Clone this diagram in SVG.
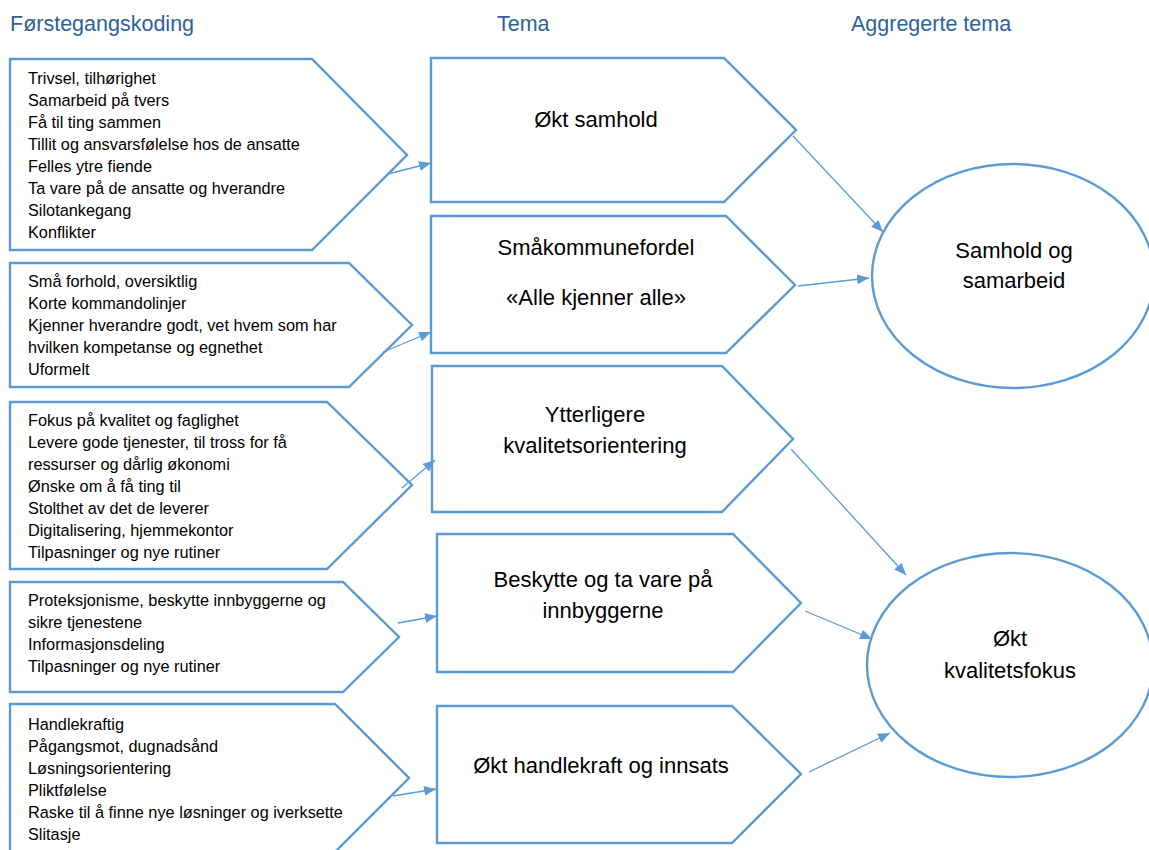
<svg xmlns="http://www.w3.org/2000/svg" width="1149" height="850" viewBox="0 0 1149 850">
<style>
.bg{fill:#fff}
.shape{fill:#fff;stroke:#5B9BD5;stroke-width:2.4}
.hdr{font-family:"Liberation Sans",Arial,sans-serif;font-size:21.5px;fill:#2E6298}
.li{font-family:"Liberation Sans",Arial,sans-serif;font-size:16.3px;fill:#000}
.tm{font-family:"Liberation Sans",Arial,sans-serif;font-size:22px;fill:#000;text-anchor:middle}
.conn{stroke:#5B9BD5;stroke-width:1.3;fill:none;marker-end:url(#ah)}
</style>
<defs>
<marker id="ah" markerUnits="userSpaceOnUse" markerWidth="13" markerHeight="11" refX="12" refY="5" orient="auto">
<path d="M0,0 L12,5 L0,10 z" fill="#5B9BD5"/>
</marker>
</defs>
<rect class="bg" x="0" y="0" width="1149" height="850"/>
<g id="headers">
<text class="hdr" x="10" y="31">Førstegangskoding</text>
<text class="hdr" x="497" y="31">Tema</text>
<text class="hdr" x="851" y="31">Aggregerte tema</text>
</g>
<g id="code1">
<polygon class="shape" points="10,59 312,59 407,155 312,250 10,250"/>
<text class="li" x="28" y="84">Trivsel, tilhørighet</text>
<text class="li" x="28" y="106">Samarbeid på tvers</text>
<text class="li" x="28" y="128">Få til ting sammen</text>
<text class="li" x="28" y="150">Tillit og ansvarsfølelse hos de ansatte</text>
<text class="li" x="28" y="172">Felles ytre fiende</text>
<text class="li" x="28" y="194">Ta vare på de ansatte og hverandre</text>
<text class="li" x="28" y="216">Silotankegang</text>
<text class="li" x="28" y="238">Konflikter</text>
</g>
<g id="code2">
<polygon class="shape" points="10,263 349,263 412,325 349,387 10,387"/>
<text class="li" x="28" y="287">Små forhold, oversiktlig</text>
<text class="li" x="28" y="309">Korte kommandolinjer</text>
<text class="li" x="28" y="331">Kjenner hverandre godt, vet hvem som har</text>
<text class="li" x="28" y="353">hvilken kompetanse og egnethet</text>
<text class="li" x="28" y="375">Uformelt</text>
</g>
<g id="code3">
<polygon class="shape" points="10,402 327,402 412,485 327,569 10,569"/>
<text class="li" x="28" y="426">Fokus på kvalitet og faglighet</text>
<text class="li" x="28" y="448">Levere gode tjenester, til tross for få</text>
<text class="li" x="28" y="470">ressurser og dårlig økonomi</text>
<text class="li" x="28" y="492">Ønske om å få ting til</text>
<text class="li" x="28" y="514">Stolthet av det de leverer</text>
<text class="li" x="28" y="536">Digitalisering, hjemmekontor</text>
<text class="li" x="28" y="558">Tilpasninger og nye rutiner</text>
</g>
<g id="code4">
<polygon class="shape" points="10,582 343,582 399,637 343,692 10,692"/>
<text class="li" x="28" y="606">Proteksjonisme, beskytte innbyggerne og</text>
<text class="li" x="28" y="628">sikre tjenestene</text>
<text class="li" x="28" y="650">Informasjonsdeling</text>
<text class="li" x="28" y="672">Tilpasninger og nye rutiner</text>
</g>
<g id="code5">
<polygon class="shape" points="10,704 335,704 409,778 335,852 10,852"/>
<text class="li" x="28" y="730">Handlekraftig</text>
<text class="li" x="28" y="752">Pågangsmot, dugnadsånd</text>
<text class="li" x="28" y="774">Løsningsorientering</text>
<text class="li" x="28" y="796">Pliktfølelse</text>
<text class="li" x="28" y="818">Raske til å finne nye løsninger og iverksette</text>
<text class="li" x="28" y="840">Slitasje</text>
</g>
<g id="tema1">
<polygon class="shape" points="431,58 724,58 796,130 724,202 431,202"/>
<text class="tm" x="596" y="127">Økt samhold</text>
</g>
<g id="tema2">
<polygon class="shape" points="431,216 726,216 795,285 726,353 431,353"/>
<text class="tm" x="596" y="255">Småkommunefordel</text>
<text class="tm" x="596" y="305">«Alle kjenner alle»</text>
</g>
<g id="tema3">
<polygon class="shape" points="432,366 722,366 793,439 722,512 432,512"/>
<text class="tm" x="595" y="422">Ytterligere</text>
<text class="tm" x="595" y="453">kvalitetsorientering</text>
</g>
<g id="tema4">
<polygon class="shape" points="437,534 733,534 801,603 733,672 437,672"/>
<text class="tm" x="603" y="587">Beskytte og ta vare på</text>
<text class="tm" x="603" y="618">innbyggerne</text>
</g>
<g id="tema5">
<polygon class="shape" points="437,706 732,706 801,774 732,843 437,843"/>
<text class="tm" x="601" y="773">Økt handlekraft og innsats</text>
</g>
<g id="agg1">
<ellipse class="shape" cx="1013" cy="276" rx="141" ry="112"/>
<text class="tm" x="1014" y="258">Samhold og</text>
<text class="tm" x="1014" y="288">samarbeid</text>
</g>
<g id="agg2">
<ellipse class="shape" cx="1010" cy="665" rx="143" ry="112"/>
<text class="tm" x="1010" y="646">Økt</text>
<text class="tm" x="1010" y="678">kvalitetsfokus</text>
</g>
<g id="connectors">
<line class="conn" x1="388" y1="174" x2="431" y2="163"/>
<line class="conn" x1="383" y1="352" x2="431" y2="332"/>
<line class="conn" x1="402" y1="488" x2="435" y2="460"/>
<line class="conn" x1="398" y1="623" x2="437" y2="616"/>
<line class="conn" x1="393" y1="796" x2="436" y2="789"/>
<line class="conn" x1="793" y1="136" x2="883" y2="232"/>
<line class="conn" x1="798" y1="286" x2="869" y2="278"/>
<line class="conn" x1="791" y1="449" x2="906" y2="575"/>
<line class="conn" x1="805" y1="611" x2="872" y2="639"/>
<line class="conn" x1="809" y1="772" x2="890" y2="733"/>
</g>
</svg>
